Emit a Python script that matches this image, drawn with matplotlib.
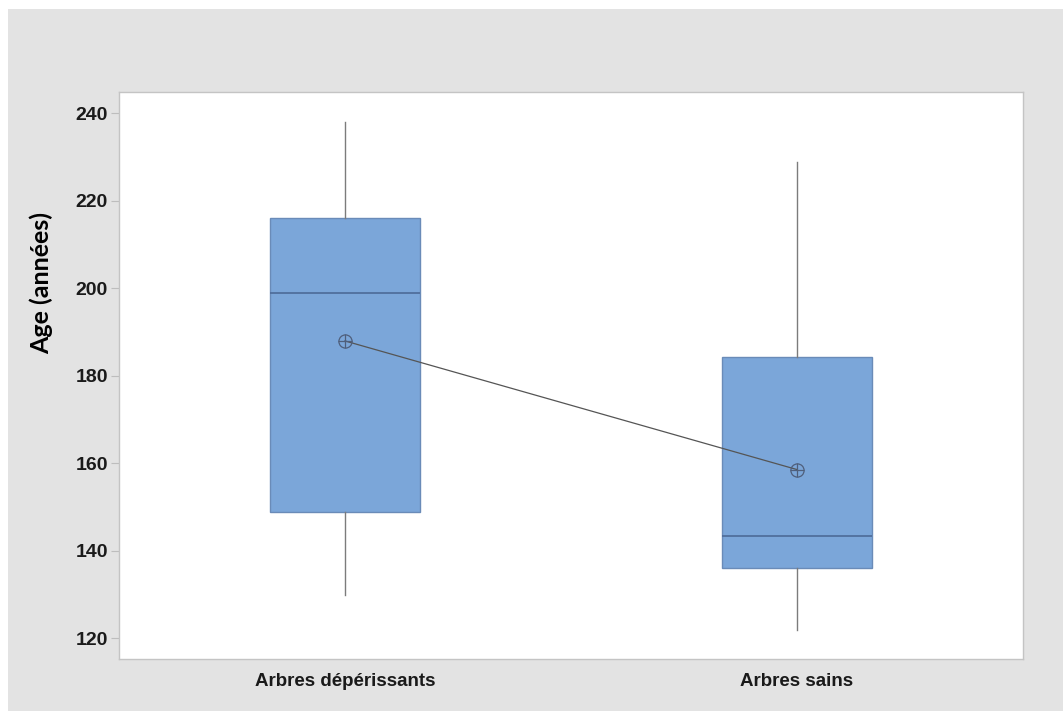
import matplotlib
matplotlib.use('Agg')
import matplotlib.pyplot as plt
from matplotlib.patches import Rectangle

# data
groups = ['Arbres dépérissants', 'Arbres sains']
whis_low = [130, 122]
q1 = [149, 136]
median = [199, 143.5]
q3 = [216, 184.3]
whis_high = [238, 229]
means = [188, 158.6]
yticks = [120, 140, 160, 180, 200, 220, 240]

positions = [1, 2]

fig = plt.figure(figsize=(10.63, 7.11), dpi=100, facecolor='white')
# grey panel behind everything (thin white strip on top / left)
fig.patches.append(Rectangle((8 / 1063, 0), 1, 1 - 9 / 711,
                             transform=fig.transFigure, facecolor='#e3e3e3',
                             edgecolor='none', zorder=-10))

ax = fig.add_axes([119 / 1063, 52 / 711, 904 / 1063, 567 / 711])
ax.set_facecolor('white')

stats = []
for i in range(len(groups)):
    stats.append({'whislo': whis_low[i], 'q1': q1[i], 'med': median[i],
                  'q3': q3[i], 'whishi': whis_high[i], 'fliers': [],
                  'label': groups[i]})

ax.bxp(stats, positions=positions, widths=0.332, patch_artist=True,
       showcaps=False, showfliers=False,
       boxprops=dict(facecolor='#7ba6d9', edgecolor='#6a8bb8', linewidth=1.0),
       medianprops=dict(color='#4d6a98', linewidth=1.2),
       whiskerprops=dict(color='#7c7c7c', linewidth=1.0))

# mean connect line and circled-plus markers
ax.plot(positions, means, color='#555555', linewidth=0.9, zorder=4)
ax.plot(positions, means, linestyle='none', marker='o', markersize=9.5,
        markerfacecolor='none', markeredgecolor='#4f5f7c', markeredgewidth=0.9, zorder=5)
ax.plot(positions, means, linestyle='none', marker='+', markersize=9.5,
        markeredgecolor='#4f5f7c', markeredgewidth=0.9, zorder=5)

ax.set_xlim(0.5, 2.5)
ax.set_ylim(115.3, 244.9)
ax.set_yticks(yticks)
ax.set_xticks(positions)
ax.set_xticklabels(groups)

for s in ax.spines.values():
    s.set_color('#c4c4c4')
    s.set_linewidth(1.0)

ax.tick_params(axis='y', length=6, color='#bdbdbd', pad=2)
ax.tick_params(axis='x', length=0, pad=10)
for lab in ax.get_yticklabels():
    lab.set_fontfamily('Liberation Sans')
    lab.set_fontweight('bold')
    lab.set_fontsize(14)
    lab.set_color('#1a1a1a')
for lab in ax.get_xticklabels():
    lab.set_fontfamily('Liberation Sans')
    lab.set_fontweight('bold')
    lab.set_fontsize(13.5)
    lab.set_color('#1a1a1a')

ax.set_ylabel('Age (années)', fontfamily='Lato', fontweight='bold',
              fontsize=18, color='black')
ax.yaxis.set_label_coords(-0.073, 0.663)

fig.savefig('out.png', dpi=100, facecolor=fig.get_facecolor())
